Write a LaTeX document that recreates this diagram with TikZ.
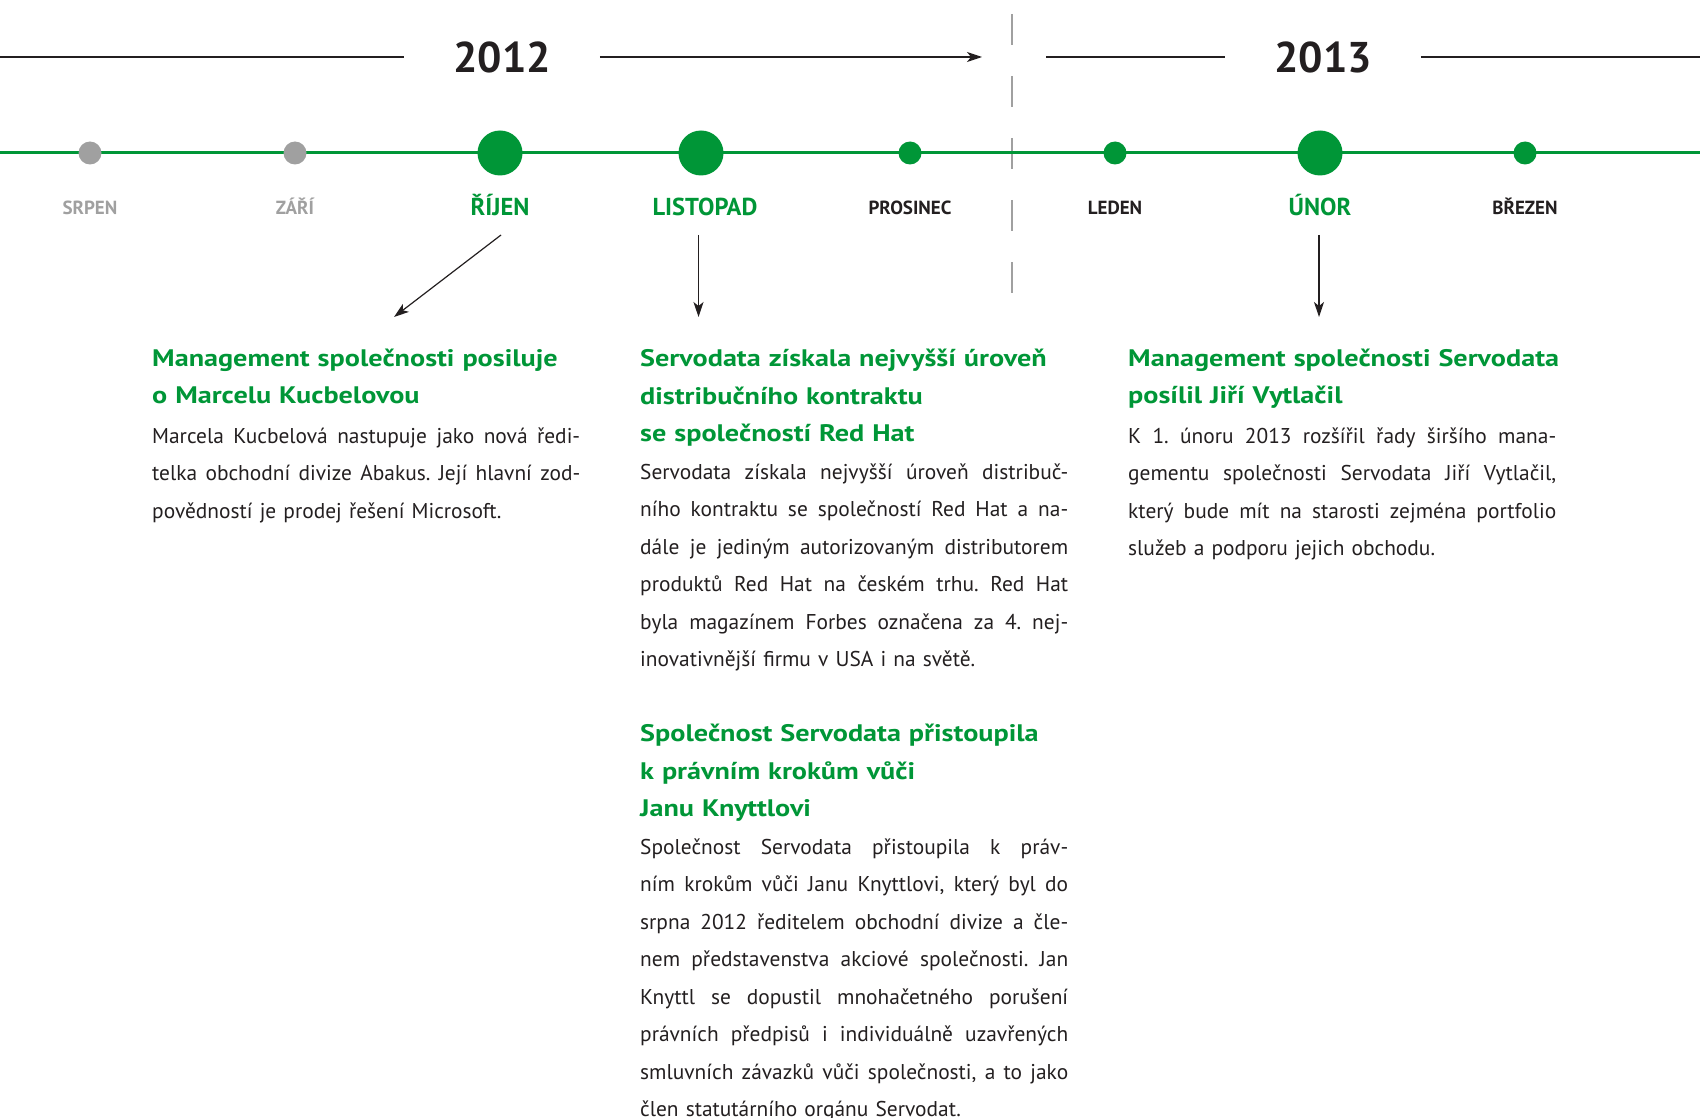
\documentclass[tikz,border=0pt]{standalone}
\usepackage{fontspec}
\setmainfont{PT Sans}
\newfontfamily\headfont{PT Sans}[FakeStretch=1.18]
\usetikzlibrary{arrows.meta}
\tikzset{>={Stealth[width=10pt,length=15pt,inset=4pt]}}
\definecolor{Color1}{RGB}{0,150,55}
\definecolor{Color2}{RGB}{160,160,160}
\definecolor{Color3}{RGB}{35,31,32}
\newlength{\colw}
\setlength{\colw}{428pt}
% one justified line of a column
\newcommand{\jline}[1]{\leavevmode\hbox to\colw{\frenchspacing\spaceskip=0.26em plus 1fil\relax #1}\\}

\begin{document}
\begin{tikzpicture}[x=1pt,y=-1pt,
		bigdot/.style={circle,fill=Color1,minimum size=45pt,inner sep=0pt},
		smalldot/.style={circle,fill=Color1,minimum size=23pt,inner sep=0pt},
		monthlabel/.style={anchor=base,inner sep=0pt,font=\bfseries\fontsize{19}{19}\selectfont},
		monthbig/.style={monthlabel,text=Color1,font=\bfseries\fontsize{24.5}{24.5}\selectfont},
		yearlabel/.style={inner xsep=49pt,inner ysep=0pt,text=Color3,font=\bfseries\fontsize{43}{43}\selectfont},
		headtext/.style={anchor=base west,inner sep=0pt,text width=560pt,text=Color1,font=\headfont\bfseries\fontsize{23.9}{37.3}\selectfont},
		bodytext/.style={anchor=base west,inner sep=0pt,text width=\colw,text=Color3,font=\fontsize{21.4}{37.5}\selectfont},
		yearline/.style={Color3,line width=1.4pt},
		downarrow/.style={->,Color3,line width=1.2pt}]

		\useasboundingbox (0,0) rectangle (1700,1118);

		% years
		\node[yearlabel] (y2012) at (502,57) {2012};
		\node[yearlabel] (y2013) at (1323,57) {2013};
		\coordinate (yStart) at (0,57);
		\coordinate (yTip) at (982,57);
		\coordinate (yRestart) at (1046,57);
		\coordinate (yEnd) at (1700,57);
		\draw[yearline] (yStart) -- (y2012.west);
		\draw[yearline,->] (y2012.east) -- (yTip);
		\draw[yearline] (yRestart) -- (y2013.west);
		\draw[yearline] (y2013.east) -- (yEnd);

		% separator between the years
		\coordinate (sepTop) at (1012,14);
		\coordinate (sepBottom) at (1012,294);
		\draw[Color2,line width=1.3pt,dash pattern=on 31pt off 31pt] (sepTop) -- (sepBottom);

		% timeline
		\coordinate (tStart) at (0,153);
		\coordinate (tEnd) at (1700,153);
		\draw[Color1,line width=3pt] (tStart) -- (tEnd);

		% month dots
		\node[smalldot,fill=Color2] (dSrpen) at (90,153) {};
		\node[smalldot,fill=Color2] (dZari) at (295,153) {};
		\node[bigdot] (dRijen) at (500,153) {};
		\node[bigdot] (dListopad) at (701,153) {};
		\node[smalldot] (dProsinec) at (910,153) {};
		\node[smalldot] (dLeden) at (1115,153) {};
		\node[bigdot] (dUnor) at (1320,153) {};
		\node[smalldot] (dBrezen) at (1525,153) {};

		% month labels
		\node[monthlabel,text=Color2] (lSrpen) at (90,214.3) {SRPEN};
		\node[monthlabel,text=Color2] (lZari) at (295,214.3) {ZÁŘÍ};
		\node[monthbig] (lRijen) at (500,216) {ŘÍJEN};
		\node[monthbig] (lListopad) at (705,216) {LISTOPAD};
		\node[monthlabel,text=Color3] (lProsinec) at (910,214.3) {PROSINEC};
		\node[monthlabel,text=Color3] (lLeden) at (1115,214.3) {LEDEN};
		\node[monthbig] (lUnor) at (1320,216) {ÚNOR};
		\node[monthlabel,text=Color3] (lBrezen) at (1525,214.3) {BŘEZEN};

		% pointers to the news
		\coordinate (aRijen) at (501,235);
		\coordinate (bRijen) at (394,317);
		\coordinate (aListopad) at (698.5,235);
		\coordinate (bListopad) at (698.5,317);
		\coordinate (aUnor) at (1319,235);
		\coordinate (bUnor) at (1319,317);
		\draw[downarrow] (aRijen) -- (bRijen);
		\draw[downarrow] (aListopad) -- (bListopad);
		\draw[downarrow] (aUnor) -- (bUnor);

		% rijen news
		\node[headtext] (hRijen) at (152,366) {Management společnosti posiluje\\o Marcelu Kucbelovou};
		\node[bodytext] (tRijen) at (152,443.3) {\jline{Marcela Kucbelová nastupuje jako nová ředi-}\jline{telka obchodní divize Abakus. Její hlavní zod-}povědností je prodej řešení Microsoft.};

		% listopad news
		\node[headtext] (hListopad) at (640,366.7) {Servodata získala nejvyšší úroveň\\distribučního kontraktu\\se společností Red Hat};
		\node[bodytext] (tListopad) at (640,479) {\jline{Servodata získala nejvyšší úroveň distribuč-}\jline{ního kontraktu se společností Red Hat a na-}\jline{dále je jediným autorizovaným distributorem}\jline{produktů Red Hat na českém trhu. Red Hat}\jline{byla magazínem Forbes označena za 4. nej-}inovativnější firmu v USA i na světě.};

		\node[headtext] (hKnyttl) at (640,741.7) {Společnost Servodata přistoupila\\k právním krokům vůči\\Janu Knyttlovi};
		\node[bodytext] (tKnyttl) at (640,854) {\jline{Společnost Servodata přistoupila k práv-}\jline{ním krokům vůči Janu Knyttlovi, který byl do}\jline{srpna 2012 ředitelem obchodní divize a čle-}\jline{nem představenstva akciové společnosti. Jan}\jline{Knyttl se dopustil mnohačetného porušení}\jline{právních předpisů i individuálně uzavřených}\jline{smluvních závazků vůči společnosti, a to jako}člen statutárního orgánu Servodat.};

		% unor news
		\node[headtext] (hUnor) at (1128,366.5) {Management společnosti Servodata\\posílil Jiří Vytlačil};
		\node[bodytext] (tUnor) at (1128,443.3) {\jline{K 1. únoru 2013 rozšířil řady širšího mana-}\jline{gementu společnosti Servodata Jiří Vytlačil,}\jline{který bude mít na starosti zejména portfolio}služeb a podporu jejich obchodu.};

	\end{tikzpicture}
\end{document}
